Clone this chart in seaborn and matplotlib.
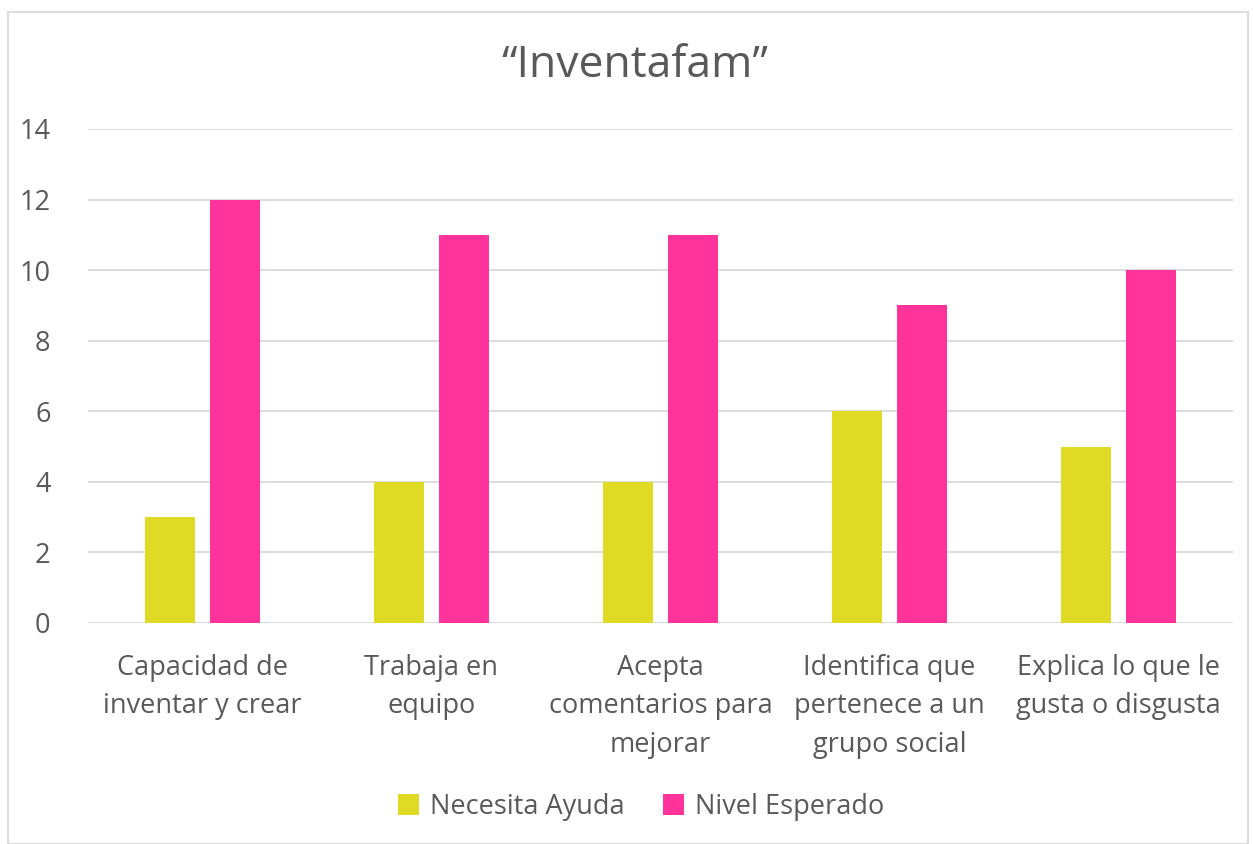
import pandas as pd
import seaborn as sns
import matplotlib.pyplot as plt
from matplotlib.patches import Rectangle

# Data
categorias = ['Capacidad de\ninventar y crear', 'Trabaja en\nequipo', 'Acepta\ncomentarios para\nmejorar',
              'Identifica que\npertenece a un\ngrupo social', 'Explica lo que le\ngusta o disgusta']
necesita_ayuda = [3, 4, 4, 6, 5]
nivel_esperado = [12, 11, 11, 9, 10]
series = ['Necesita Ayuda', 'Nivel Esperado']
colores = ['#DFDB24', '#FF3399']

df = pd.DataFrame({
    'categoria': categorias * 2,
    'valor': necesita_ayuda + nivel_esperado,
    'serie': [series[0]] * 5 + [series[1]] * 5,
})

sns.set_style('white')
plt.rcParams['font.family'] = ['Open Sans', 'DejaVu Sans']
gris = '#595959'

fig = plt.figure(figsize=(12.53, 8.44), dpi=100)
ax = fig.add_axes([0.0702, 0.2619, 0.9138, 0.5853])

sns.barplot(data=df, x='categoria', y='valor', hue='serie', palette=colores,
            width=0.57, gap=0.23, ax=ax, saturation=1, linewidth=0)

ax.set_ylim(0, 14)
ax.set_yticks(range(0, 15, 2))
ax.set_xlim(-0.5, 4.5)
ax.grid(axis='y', color='#D9D9D9', linewidth=1.3)
ax.set_axisbelow(True)
for s in ax.spines.values():
    s.set_visible(False)
ax.tick_params(axis='both', length=0, labelsize=19.5, labelcolor=gris)
ax.tick_params(axis='y', pad=27)
ax.tick_params(axis='x', pad=22)
for lbl in ax.get_xticklabels():
    lbl.set_linespacing(1.5)
ax.set_xlabel('')
ax.set_ylabel('')
fig.suptitle('\u201cInventafam\u201d', x=0.507, y=0.922, fontsize=32, color=gris, va='center')

ax.legend(loc='upper center', bbox_to_anchor=(0.483, -0.295), ncol=2, frameon=False,
          fontsize=19.5, labelcolor=gris, handlelength=0.8, handleheight=0.8,
          columnspacing=1.4, handletextpad=0.4)

fig.patches.append(Rectangle((0.0064, 0.0), 0.99, 0.986, transform=fig.transFigure,
                             fill=False, edgecolor='#D9D9D9', linewidth=1.3))

plt.savefig('out.png', dpi=100)
